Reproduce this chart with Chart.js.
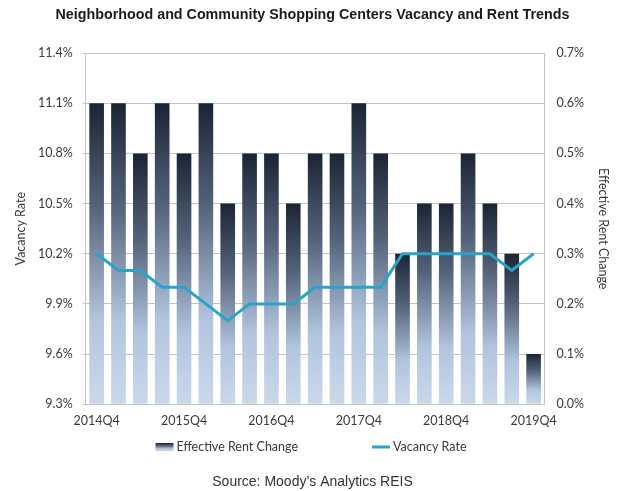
<!DOCTYPE html>
<html><head><meta charset="utf-8">
<script src="https://cdn.jsdelivr.net/npm/chart.js@4.4.0/dist/chart.umd.min.js"></script>
<style>html,body{margin:0;padding:0;background:#fff}#wrap{width:634px;height:491px}</style>
</head><body><div id="wrap"><canvas id="c" width="634" height="491"></canvas></div>
<script>
const quarters = ['2014Q4','2015Q1','2015Q2','2015Q3','2015Q4','2016Q1','2016Q2','2016Q3','2016Q4',
  '2017Q1','2017Q2','2017Q3','2017Q4','2018Q1','2018Q2','2018Q3','2018Q4','2019Q1','2019Q2','2019Q3','2019Q4'];
const rentChange = [0.6,0.6,0.5,0.6,0.5,0.6,0.4,0.5,0.5,0.4,0.5,0.5,0.6,0.5,0.3,0.4,0.4,0.5,0.4,0.3,0.1];
const vacancyRate = [10.2,10.1,10.1,10.0,10.0,9.9,9.8,9.9,9.9,9.9,10.0,10.0,10.0,10.0,10.2,10.2,10.2,10.2,10.2,10.1,10.2];
const vacancyAxis = {min: 9.3, max: 11.4, step: 0.3};
const rentAxis = {min: 0, max: 0.7, step: 0.1};
const chartTitle = 'Neighborhood and Community Shopping Centers Vacancy and Rent Trends';
const sourceNote = 'Source: Moody\u2019s Analytics REIS';
const seriesNames = ['Effective Rent Change', 'Vacancy Rate'];

const LINE_COLOR = '#2ba3c6';
const GRID = '#c4c4c4';
const TXT = '#3a3a3a';
const FONT = 'Lato, "Liberation Sans", sans-serif';

function barGradient(ctx, top, bottom) {
  const g = ctx.createLinearGradient(0, top, 0, bottom);
  g.addColorStop(0, '#1b2434');
  g.addColorStop(0.35, '#56657c');
  g.addColorStop(0.72, '#b1c5df');
  g.addColorStop(1, '#cbd8ea');
  return g;
}

const legendPlugin = {
  id: 'customLegend',
  afterDraw(chart) {
    const ctx = chart.ctx;
    const y = 447;
    ctx.save();
    ctx.font = '12.5px ' + FONT;
    ctx.textBaseline = 'middle';
    const box = 18, gap = 3, between = 74;
    const w1 = box + gap + ctx.measureText(seriesNames[0]).width;
    const w2 = box + gap + ctx.measureText(seriesNames[1]).width;
    let x = (chart.width - (w1 + between + w2)) / 2 - 6;
    ctx.fillStyle = barGradient(ctx, y - 4, y + 4);
    ctx.fillRect(x, y - 4, box, 8);
    ctx.fillStyle = TXT;
    ctx.fillText(seriesNames[0], x + box + gap, y);
    x += w1 + between;
    ctx.strokeStyle = LINE_COLOR;
    ctx.lineWidth = 3;
    ctx.beginPath(); ctx.moveTo(x, y); ctx.lineTo(x + box, y); ctx.stroke();
    ctx.fillStyle = TXT;
    ctx.fillText(seriesNames[1], x + box + gap, y);
    ctx.restore();
  }
};

new Chart(document.getElementById('c'), {
  data: {
    labels: quarters,
    datasets: [
      {
        type: 'line', label: seriesNames[1], data: vacancyRate, yAxisID: 'y',
        borderColor: LINE_COLOR, borderWidth: 3, pointRadius: 0, tension: 0, order: 0
      },
      {
        type: 'bar', label: seriesNames[0], data: rentChange, yAxisID: 'y1', order: 1,
        barPercentage: 0.67, categoryPercentage: 1,
        backgroundColor: (c) => {
          const s = c.chart.scales && c.chart.scales.y1;
          if (!s || c.type !== 'data') return '#6b7c94';
          const t = s.getPixelForValue(c.raw), b = s.getPixelForValue(0);
          if (!Number.isFinite(t) || !Number.isFinite(b) || t === b) return '#6b7c94';
          return barGradient(c.chart.ctx, t, b);
        }
      }
    ]
  },
  options: {
    responsive: false,
    animation: false,
    layout: {padding: {left: 13, right: 22, top: 0, bottom: 0}},
    plugins: {
      legend: {display: false},
      tooltip: {enabled: false},
      title: {display: true, text: chartTitle, color: '#1a1a1a',
        font: {family: '"Liberation Sans", Arial, sans-serif', size: 14.3, weight: 'bold'},
        padding: {top: 6, bottom: 30}},
      subtitle: {display: true, position: 'bottom', text: sourceNote, color: '#333',
        font: {family: '"Liberation Sans", Arial, sans-serif', size: 14},
        padding: {top: 45, bottom: 0}}
    },
    scales: {
      x: {
        offset: true,
        grid: {display: false},
        border: {display: true, color: GRID},
        ticks: {autoSkip: false, maxRotation: 0, color: TXT, padding: 1,
          font: {family: FONT, size: 12.5},
          callback: function (v, i) { return i % 4 === 0 ? this.getLabelForValue(v) : ''; }}
      },
      y: {
        position: 'left', min: vacancyAxis.min, max: vacancyAxis.max,
        grid: {color: GRID, tickLength: 3},
        border: {display: true, color: GRID},
        ticks: {stepSize: vacancyAxis.step, color: TXT, padding: 10,
          font: {family: FONT, size: 12.5},
          callback: (v) => v.toFixed(1) + '%'},
        title: {display: true, text: 'Vacancy Rate', color: TXT,
          font: {family: FONT, size: 12.5}, padding: {top: 0, bottom: 0}}
      },
      y1: {
        position: 'right', min: rentAxis.min, max: rentAxis.max,
        grid: {drawOnChartArea: false, drawTicks: false},
        border: {display: true, color: GRID},
        ticks: {stepSize: rentAxis.step, color: TXT, padding: 12,
          font: {family: FONT, size: 12.5},
          callback: (v) => v.toFixed(1) + '%'},
        title: {display: true, text: 'Effective Rent Change', color: TXT,
          font: {family: FONT, size: 12.5}, padding: {top: 1, bottom: 0}}
      }
    }
  },
  plugins: [legendPlugin]
});
</script></body></html>
